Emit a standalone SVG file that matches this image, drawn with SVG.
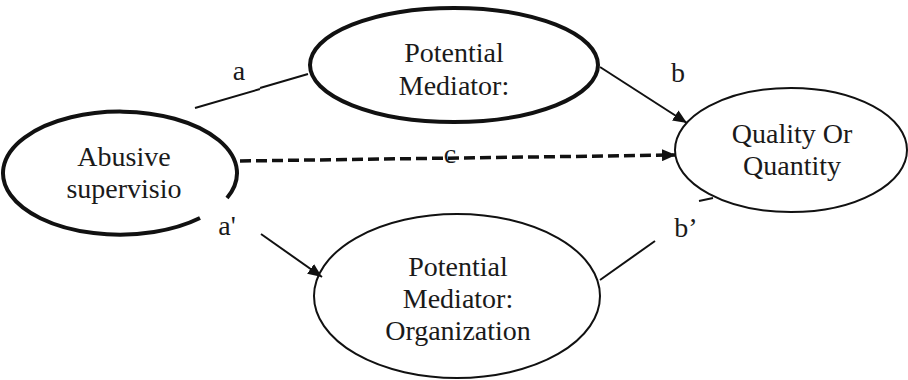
<svg xmlns="http://www.w3.org/2000/svg" width="908" height="380" viewBox="0 0 908 380">
<style>
  text { font-family: 'Liberation Serif', 'Times New Roman', 'DejaVu Serif', serif; font-size: 28px; fill: #1a1a1a; text-anchor: middle; }
  .thick { fill: none; stroke: #111; stroke-width: 4; }
  .thin { fill: none; stroke: #111; stroke-width: 2; }
  .line { fill: none; stroke: #111; stroke-width: 2; }
  .dash { fill: none; stroke: #111; stroke-width: 3.5; stroke-dasharray: 11 5; }
</style>
<defs>
  <marker id="arr" markerUnits="userSpaceOnUse" markerWidth="14" markerHeight="12" refX="14" refY="6" orient="auto">
    <path d="M0,0 L14,6 L0,12 Z" fill="#111"/>
  </marker>
</defs>
<rect width="908" height="380" fill="#fff"/>
<g id="connectors">
  <path class="line" d="M195,108 L260,89 M260,88 L308,74"/>
  <line class="line" x1="600" y1="67" x2="687" y2="123" marker-end="url(#arr)"/>
  <line class="dash" x1="240" y1="161" x2="676" y2="155" marker-end="url(#arr)"/>
  <line class="line" x1="261" y1="234" x2="322" y2="277" marker-end="url(#arr)"/>
  <line class="line" x1="600" y1="280" x2="655" y2="241"/>
  <line class="line" x1="699" y1="201" x2="713" y2="198"/>
  <text x="239" y="80" font-family="Liberation Serif, serif">a</text>
  <text x="678" y="82" font-family="Liberation Serif, serif">b</text>
  <text x="450" y="163" font-family="Liberation Serif, serif">c</text>
  <text x="227" y="235" font-family="Liberation Serif, serif">a'</text>
  <text x="686" y="237" font-family="Liberation Serif, serif">b’</text>
</g>
<g id="abusive" font-family="Liberation Serif, serif">
  <path class="thick" d="M227,198 A117,61.5 0 1 0 200,218"/>
  <text x="124" y="166">Abusive</text>
  <text x="124" y="198">supervisio</text>
</g>
<g id="mediator-top">
  <ellipse class="thick" cx="454" cy="65" rx="144" ry="57"/>
  <text x="454" y="62">Potential</text>
  <text x="454" y="95">Mediator:</text>
</g>
<g id="outcome">
  <ellipse class="thin" cx="791" cy="150" rx="116" ry="62"/>
  <text x="792" y="143">Quality Or</text>
  <text x="792" y="175">Quantity</text>
</g>
<g id="mediator-org">
  <ellipse class="thin" cx="457" cy="296" rx="143" ry="82"/>
  <text x="458" y="276">Potential</text>
  <text x="458" y="308">Mediator:</text>
  <text x="458" y="340">Organization</text>
</g>
</svg>
